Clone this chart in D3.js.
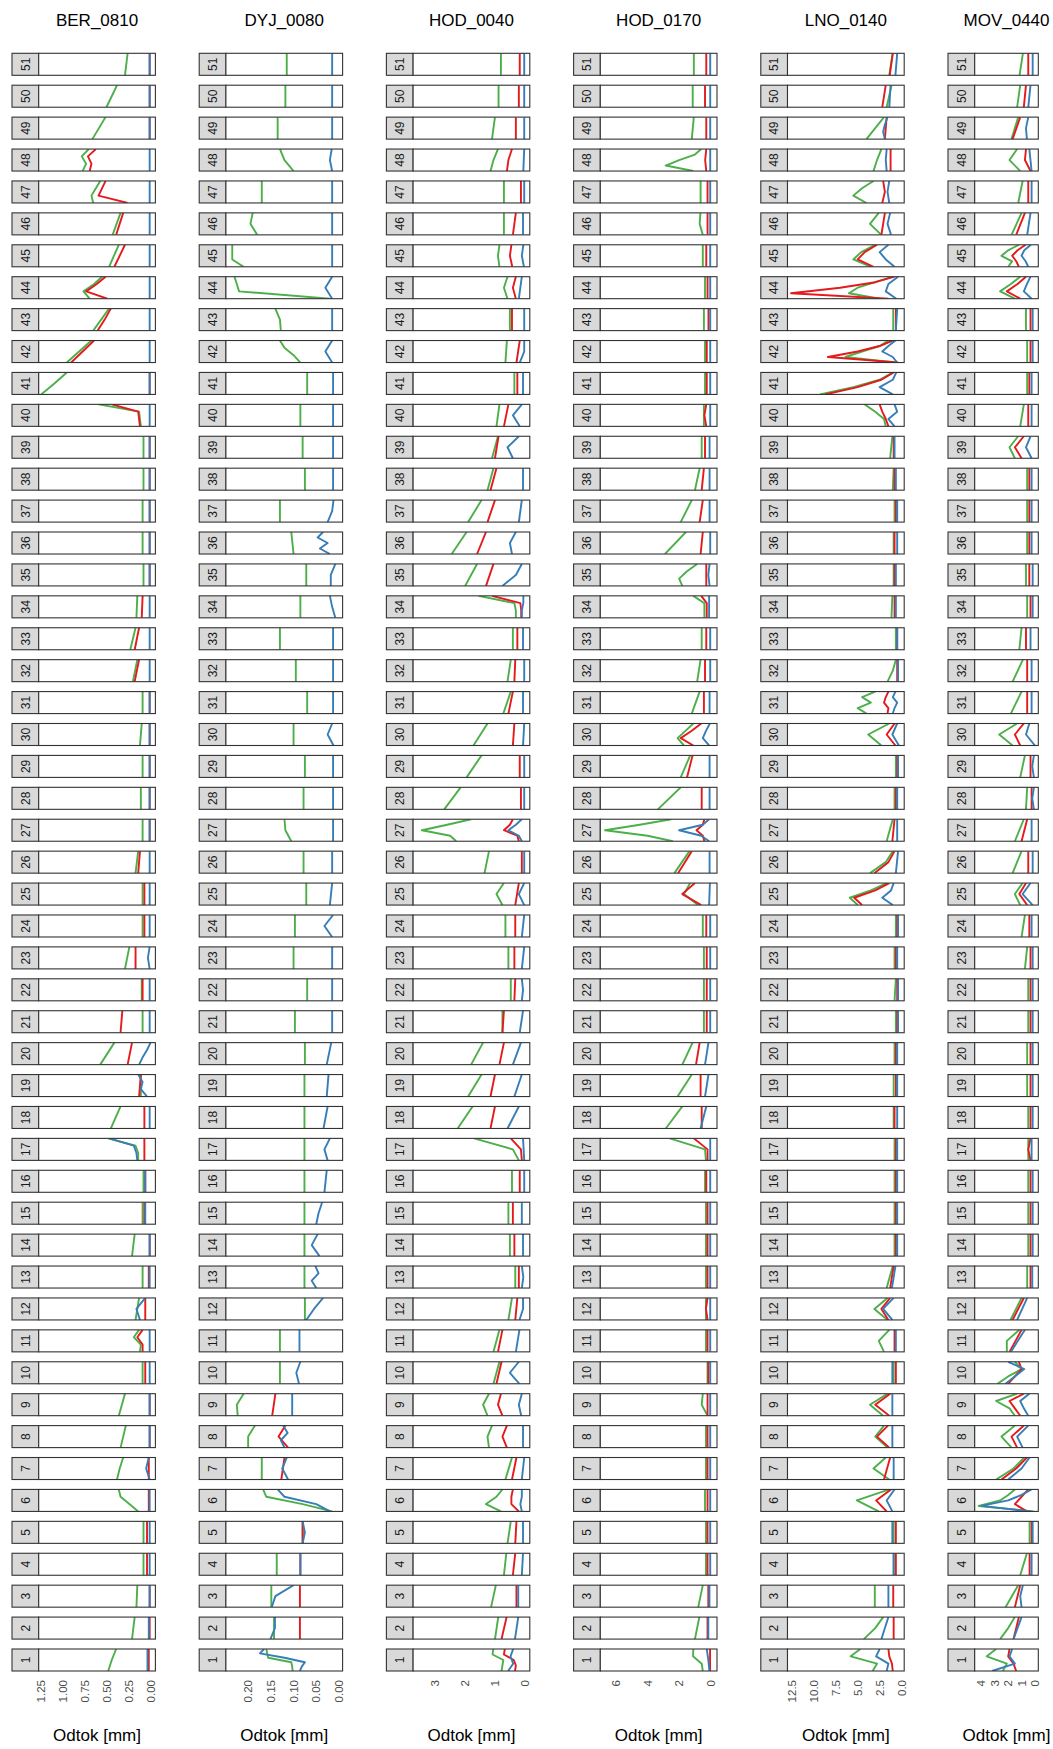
<!DOCTYPE html>
<html>
<head>
<meta charset="utf-8">
<script src="https://cdn.jsdelivr.net/npm/d3@7"></script>
<style>
  body { margin: 0; background: #fff; }
  text { font-family: "Liberation Sans", Arial, Helvetica, sans-serif; }
</style>
</head>
<body>
<svg id="chart" width="1053" height="1749"></svg>
<script>
// stations (one column each), weeks (one panel each)
var stations = ["BER_0810", "DYJ_0080", "HOD_0040", "HOD_0170", "LNO_0140", "MOV_0440"];
var weeks = d3.range(1, 52);

// runoff per week, read top -> bottom inside each panel; index 0 = week 1
var berGreen = [[0.40,0.45,0.49],[0.19,0.22],[0.16,0.17],[0.09],[0.09],[0.37,0.35,0.25,0.15],[0.32,0.36,0.39],[0.29,0.35],[0.30,0.37],[0.10],
  [0.14,0.2,0.12,0.13],[0.14,0.18],[0.10],[0.19,0.22],[0.10],[0.09],[0.49,0.18,0.15,0.15],[0.35,0.46],[0.12],[0.42,0.58],
  [0.10],[0.11],[0.25,0.30],[0.10],[0.10],[0.15,0.18],[0.10],[0.12],[0.10],[0.11,0.13],
  [0.10],[0.16,0.21],[0.18,0.24],[0.16,0.17],[0.09],[0.10],[0.10],[0.09],[0.09],[0.6,0.14,0.13,0.12],
  [0.96,1.1,1.25],[0.68,0.82,0.96],[0.48,0.57,0.66],[0.56,0.65,0.77,0.7],[0.37,0.48],[0.35,0.44],[0.58,0.63,0.68,0.66],[0.71,0.79,0.74,0.78],[0.52,0.67],[0.39,0.51],[0.27,0.30]];
var berRed = [[0.03],[0.02],[0.02],[0.05],[0.05],[0.03],[0.03],[0.02],[0.02],[0.07],
  [0.1,0.16,0.1,0.1],[0.07],[0.03],[0.02],[0.08],[0.07],[0.08],[0.08],[0.12,0.14],[0.22,0.27],
  [0.33,0.35],[0.10],[0.18],[0.08],[0.08],[0.13,0.15],[0.02],[0.02],[0.02],[0.02],
  [0.02],[0.14,0.19],[0.14,0.19],[0.1,0.11],[0.02],[0.02],[0.02],[0.02],[0.02],[0.45,0.15,0.14,0.13],
  [0.02],[0.65,0.78,0.91],[0.46,0.53,0.61],[0.52,0.62,0.74,0.5],[0.30,0.42],[0.32,0.40],[0.52,0.56,0.6,0.27],[0.63,0.72,0.68,0.70],[0.02],[0.02],[0.02]];
var berBlue = [[0.045],[0.03],[0.02],[0.02],[0.02],[0.02],[0.03,0.06,0.02],[0.02],[0.02],[0.02],
  [0.02],[0.07,0.17,0.13],[0.02],[0.02],[0.07],[0.07],[0.48,0.2,0.17,0.16],[0.02],[0.15,0.1,0.12,0.05],[0.01,0.05,0.1,0.14],
  [0.02],[0.02],[0.02,0.04,0.02],[0.02],[0.02],[0.02],[0.02],[0.02],[0.02],[0.02],
  [0.02],[0.02],[0.02],[0.02],[0.02],[0.02],[0.02],[0.02],[0.02],[0.02],
  [0.02],[0.02],[0.02],[0.02],[0.02],[0.02],[0.02],[0.02],[0.02],[0.02],[0.02]];

var dyjGreen = [[0.16,0.158,0.156,0.105,0.103,0.102],[0.143],[0.149],[0.137],[0.08],[0.167,0.16,0.08,0.015],[0.17],[0.185,0.2,0.2],[0.21,0.225,0.223],[0.13],
  [0.13],[0.075],[0.076],[0.076],[0.076],[0.076],[0.076],[0.076],[0.076],[0.075],
  [0.097],[0.07],[0.1],[0.097],[0.072],[0.078],[0.12,0.118,0.105],[0.078],[0.075],[0.1],
  [0.07],[0.095],[0.13],[0.085],[0.072],[0.105,0.1],[0.13],[0.075],[0.08],[0.085],
  [0.07],[0.13,0.12,0.1,0.085],[0.14,0.13,0.128],[0.23,0.225,0.22,0.02],[0.235,0.235,0.235,0.21],[0.19,0.195,0.18],[0.17],[0.13,0.12,0.1],[0.135],[0.118],[0.115]];
var dyjRed = [null,[0.086],[0.086],[0.085],[0.08],null,[0.12,0.127],[0.118,0.133,0.112],[0.14,0.147],null,
  null,null,null,null,null,null,null,null,null,null,
  null,null,null,null,null,null,null,null,null,null,
  null,null,null,null,null,null,null,null,null,null,
  null,null,null,null,null,null,null,null,null,null,null];
var dyjBlue = [[0.165,0.174,0.12,0.075,0.082,0.086],[0.141,0.141,0.151],[0.1,0.14,0.148],[0.085],[0.08,0.075,0.08],[0.135,0.12,0.05,0.02],[0.115,0.125,0.112],[0.123,0.113,0.128,0.12],[0.103],[0.085,0.094,0.088],
  [0.087],[0.035,0.055,0.072],[0.052,0.045,0.06,0.05],[0.047,0.06,0.043],[0.037,0.045,0.05],[0.027,0.032],[0.02,0.032,0.025],[0.025,0.034],[0.023,0.027],[0.017,0.027],
  [0.015],[0.015],[0.015],[0.013,0.032,0.015],[0.015,0.02],[0.015],[0.013],[0.013],[0.013],[0.015,0.025,0.012],
  [0.013],[0.013],[0.013],[0.02,0.015,0.008],[0.008,0.018,0.018],[0.035,0.047,0.025,0.042,0.02],[0.012,0.015,0.025],[0.013],[0.013],[0.013],
  [0.013],[0.015,0.03,0.015],[0.015],[0.015,0.03,0.015],[0.015],[0.015],[0.015],[0.016,0.02,0.015],[0.015],[0.015],[0.015]];

var hodGreen = [[1.06,1.08,0.72,0.75,0.78],[0.89,1.0],[0.97,1.13],[0.62,0.7],[0.47,0.58],[0.75,0.95,1.3,0.8],[0.43,0.65],[1.1,1.25,1.2],[1.2,1.4,1.25],[0.85,1.05],
  [0.85,1.05],[0.43,0.55],[0.32],[0.5],[0.55],[0.43],[1.7,0.4,0.2],[1.75,2.25],[1.45,1.9],[1.4,1.8],
  [0.75],[0.47],[0.55],[0.65],[0.7,0.95,0.75],[1.2,1.35],[1.8,2.6,3.45,2.5,2.3],[2.15,2.7],[1.45,1.95],[1.25,1.72],
  [0.47,0.72],[0.47,0.58],[0.4],[1.55,0.35,0.3,0.3],[1.6,2.0],[1.95,2.45],[1.45,1.9],[1.05,1.25],[0.9,1.1],[0.85,0.95],
  [0.35],[0.6,0.65],[0.5],[0.58,0.7,0.58],[0.85,0.9,0.85],[0.7],[0.7],[0.9,1.05,1.15],[1.0,1.1],[0.88],[0.8]];
var hodRed = [[0.67,0.7,0.37,0.3,0.33],[0.61,0.78],[0.28],[0.32,0.4],[0.28,0.32],[0.4,0.45,0.45,0.2],[0.28,0.43],[0.6,0.75,0.6],[0.8,0.9,0.75],[0.78,0.95],
  [0.75,0.9],[0.25,0.32],[0.2],[0.35],[0.4],[0.17],[0.47,0.13,0.1],[1.0,1.15],[1.0,1.15],[0.7,0.85],
  [0.7,0.75],[0.32,0.35],[0.35],[0.32],[0.2,0.32],[0.1],[0.4,0.5,0.7,0.25,0.2],[0.13],[0.17],[0.35,0.4],
  [0.4,0.55],[0.32,0.35],[0.25],[1.1,0.15,0.12,0.12],[1.05,1.3],[1.3,1.6],[1.0,1.25],[0.95,1.15],[0.88,1.0],[0.55,0.7],
  [0.25],[0.17,0.28],[0.43],[0.3,0.4,0.3],[0.45,0.5,0.42],[0.3,0.4],[0.13],[0.43,0.55,0.6],[0.3],[0.2],[0.17]];
var hodBlue = [[0.39,0.48,0.39,0.56],[0.22,0.33],[0.22],[0.06,0.1],[0.06],[0.1,0.1,0.15,0.1],[0.02,0.1],[0.06],[0.1,0.2,0.12],[0.2,0.5,0.18],
  [0.18,0.3],[0.06,0.06,0.18],[0.1,0.05,0.1],[0.06],[0.1],[0.02],[0.06,0.02],[0.2,0.58],[0.1,0.35],[0.13,0.4],
  [0.06,0.17],[0.1,0.06,0.1],[0.02,0.1],[0.02,0.1],[0.02,0.2,0.02],[0.02],[0.1,0.3,0.55,0.2,0.1],[0.02],[0.02],[0.02,0.06],
  [0.06],[0.02],[0.06],[0.05,0.05,0.1,0.1],[0.1,0.3,0.75],[0.3,0.5,0.43],[0.1,0.2],[0.06],[0.2,0.58,0.4],[0.1,0.4,0.17],
  [0.06],[0.02,0.02,0.17],[0.02],[0.1,0.2],[0.05,0.1,0.03],[0.06],[0.02],[0.02,0.05],[0.02],[0.02],[0.02]];

var ho2Green = [[1.1,1.12,0.57,0.5],[0.72,1.0],[0.5,0.79],[0.3],[0.3],[0.36],[0.3],[0.3],[0.5,0.57,0.2],[0.2],
  [0.3],[0.3],[0.3],[0.3],[0.3],[0.36],[2.6,0.36,0.3],[1.8,2.85],[1.2,2.1],[1.15,1.8],
  [0.43],[0.43],[0.43],[0.5],[1.3,1.7,0.8],[1.35,2.3],[2.5,4.5,6.7,4.0,2.4],[1.9,3.35],[1.3,1.9],[1.1,1.6,2.1,1.7],
  [0.7,1.2],[0.64,0.86],[0.57],[1.1,0.4,0.4,0.4],[0.86,1.5,2.0,1.8],[1.57,2.9],[1.2,1.9],[0.7,1.0],[0.57],[0.43],
  [0.36],[0.36],[0.43],[0.36],[0.5],[0.65,0.7,0.5],[0.64],[0.6,1.0,2.0,2.85,1.1],[1.07,1.2],[1.14],[1.07]];
var ho2Red = [[0.04],[0.2],[0.15],[0.2],[0.2],[0.2],[0.2],[0.2],[0.2],[0.15],
  [0.2],[0.2,0.3,0.2],[0.2],[0.2],[0.2],[0.28],[1.07,0.2,0.2],[0.57],[0.64],[0.7,0.93],
  [0.25],[0.25],[0.25],[0.28],[1.0,1.8,0.6],[1.2,2.07],[0.4,0.5,0.9,0.5,0.4],[0.57],[1.15,1.5],[0.6,1.2,1.9,1.1],
  [0.43],[0.36],[0.28],[0.6,0.25,0.25,0.25],[0.28],[0.5,0.64],[0.5,0.7],[0.43,0.57],[0.36],[0.28,0.4,0.28],
  [0.25],[0.25],[0.14],[0.2],[0.28],[0.2],[0.2],[0.28,0.35,0.28],[0.28],[0.36],[0.28]];
var ho2Blue = [[0.25,0.15,0.08],[0.15],[0.08],[0.03],[0.03],[0.03],[0.03],[0.03],[0.03],[0.03],
  [0.03],[0.03],[0.03],[0.03],[0.03],[0.03],[0.03],[0.28,0.64],[0.14,0.36],[0.14,0.36],
  [0.03],[0.03],[0.03],[0.03],[0.05,0.1],[0.07],[0.1,0.5,2.0,0.6,0.1],[0.07],[0.07],[0.05,0.3,0.5,0.1],
  [0.07],[0.03],[0.03],[0.1],[0.07,0.15,0.07],[0.03],[0.07],[0.07],[0.07],[0.03],
  [0.03],[0.03],[0.03],[0.03],[0.03],[0.03],[0.03],[0.03],[0.03],[0.03],[0.03]];

var lnoGreen = [[4.7,5.8,2.8,3.3],[2.1,3.0,4.3],[3.05],[0.9],[0.9],[1.4,5.1,2.6],[1.8,3.2,1.4],[2.0,3.0,1.6],[1.6,3.6,2.1],[0.9],
  [1.4,2.6,2.0],[1.6,3.1,1.6],[1.0,1.7],[0.8],[0.8],[0.8],[0.8],[0.9],[0.9],[0.8],
  [0.65],[0.65,0.8],[0.8],[0.65],[1.7,3.5,5.9,5.0],[1.0,1.8,3.6],[1.0,1.7],[0.8],[0.65],[1.4,3.8,2.3],
  [3.0,4.5,3.5,5.0,4.0],[0.65,1.0,1.6],[0.65],[1.05,1.15],[0.9],[0.9],[0.8],[0.9,1.0],[1.05,1.3],[4.2,3.0,2.0,1.8],
  [1.0,2.5,5.5,9.3],[1.5,2.5,4.5,6.4,0.8],[0.95],[1.0,3.0,5.0,6.0,2.5],[3.0,4.6,5.5,3.5],[2.6,3.6,2.3],[3.2,4.5,5.5,4.0],[2.3,2.8,3.2],[2.0,3.0,4.0],[1.14,1.7],[1.02,1.4]];
var lnoRed = [[1.5,1.4,1.1,1.0],[0.9],[0.95],[0.65],[0.65],[1.2,2.9,1.7],[1.3,2.0],[1.55,2.8,1.4],[1.3,3.0,1.4],[0.65],
  [0.8],[1.3,2.3,1.5],[0.9,1.3],[0.65],[0.65],[0.65],[0.65],[0.8],[0.65],[0.65],
  [0.5],[0.5],[0.65],[0.5],[1.4,3.0,5.4,4.5],[0.8,1.5,3.1],[0.8,1.05],[0.65],[0.5],[0.8,1.7,0.7],
  [1.5,1.8,2.0,1.5,1.6],[0.5],[0.5],[0.8],[0.8],[0.8],[0.65],[0.8],[0.9],[2.5,2.2,1.8,1.5],
  [0.9,2.3,5.0,8.7],[1.0,2.5,5.0,8.4,0.4],[0.65],[0.8,3.0,7.0,12.6,1.5],[2.8,4.2,5.0,3.2],[1.9,2.3],[2.1,1.9,2.2],[1.25],[1.7,1.9],[1.8,2.2],[1.0,1.35]];
var lnoBlue = [[2.5,2.9,1.5,1.7],[1.5,2.3],[1.5],[0.9],[1.05],[0.8,1.7,1.05],[0.9],[1.05],[1.05],[1.05],
  [0.65],[0.9,2.1,1.05],[0.7,1.1],[0.5],[0.5],[0.5],[0.5],[0.5],[0.5],[0.5],
  [0.4],[0.4],[0.5],[0.4],[0.9,1.2,2.2,1.0],[0.4,0.65],[0.5],[0.5],[0.4],[0.5,1.05,0.3],
  [0.7,1.0,0.5,0.8,1.0],[0.4],[0.5],[0.65],[0.65],[0.5],[0.5],[0.65],[0.8],[0.8,0.5,1.5,0.8],
  [0.6,1.0,2.5,1.0],[0.7,1.5,2.2,1.0,0.5],[0.5,0.65],[0.4,1.5,1.8,0.6],[1.5,2.5,1.8,0.8],[1.3,1.6,1.2],[1.4,1.6,1.4],[1.7,1.8,1.7],[1.6,1.9,2.1,1.9],[1.25,1.4],[0.5,0.7]];

var movGreen = [[2.9,3.6,2.1,2.4],[1.5,2.0,2.6],[1.25,2.2],[0.6,1.1],[0.4],[1.5,2.0,2.6,4.2,0.1],[0.8,1.6,2.9],[1.5,2.5,1.75],[1.33,2.9,1.9,1.5],[1.5,1.0,2.0,2.8],
  [1.17,2.1,2.1],[1.0,1.83],[0.58],[0.5],[0.5],[0.5],[0.5],[0.5],[0.58],[0.58],
  [0.5],[0.5],[0.58,0.75],[0.75,1.0],[0.92,1.5,1.1],[1.0,1.67],[0.83,1.5],[0.58,0.67],[0.75,1.1],[1.33,2.67,1.67],
  [1.0,1.8],[0.9,1.67],[1.0,1.17],[0.58],[0.67],[0.58],[0.58],[0.58],[1.25,1.9,1.5],[0.83,1.1],
  [0.58],[0.58],[0.67],[1.1,1.8,2.6,1.5],[1.2,2.0,2.5,1.7,2.0],[1.0,1.75],[0.92,1.25],[1.33,1.9,1.1],[1.25,1.75],[1.1,1.33],[0.9,1.15]];
var movRed = [[1.9,2.0,1.6,1.4],[1.2,1.6],[1.1,1.5],[0.4],[0.25],[0.5,1.0,1.5,0.6],[0.6,1.4,2.5],[0.83,1.75,1.33],[0.83,1.9,1.5,1.1],[1.2,1.0,1.5,2.0],
  [1.0,1.9],[0.83,1.67],[0.33],[0.33],[0.33],[0.33],[0.33,0.5,0.33],[0.33],[0.33],[0.33],
  [0.33],[0.33],[0.33],[0.42],[0.67,1.17,0.58],[0.5],[0.58,1.0],[0.25],[0.33],[0.83,1.5,1.1],
  [0.58],[0.58],[0.67],[0.33],[0.42],[0.42],[0.42],[0.42],[0.83,1.5,1.0],[0.5],
  [0.42],[0.33],[0.33],[0.67,1.3,2.1,1.1],[0.7,1.3,1.7,1.4,1.2],[0.75,1.4],[0.5],[0.67,0.75,0.33],[1.1,1.67],[0.67,0.83],[0.5]];
var movBlue = [[1.7,1.9,1.5,3.2],[1.0,1.6],[0.9,1.1,1.0],[0.25],[0.17],[0.25,1.0,2.0,4.0,0.3],[0.4,1.0,2.0],[0.5,1.33,0.92],[0.42,1.1,0.83,0.5],[2.0,0.8,1.5,2.2],
  [0.75,1.8],[0.58,1.33],[0.2],[0.17],[0.17],[0.17],[0.25],[0.17],[0.17],[0.17],
  [0.17],[0.17],[0.17],[0.25],[0.33,0.92,0.17],[0.17],[0.25],[0.08,0.2,0.08],[0.08,0.2,0.08],[0.42,0.67,0.0],
  [0.25],[0.25],[0.33],[0.17],[0.17],[0.25],[0.25],[0.25],[0.33,0.67,0.25],[0.25],
  [0.25],[0.17],[0.17],[0.33,0.6,0.83,0.25],[0.3,0.8,1.0,0.7,0.5],[0.33,0.58],[0.25],[0.42,0.25],[0.5,0.67,0.6],[0.33,0.5],[0.17]];

// axis ticks and visible value range per column (axis runs right -> left)
var xTicks = [[1.25,1,0.75,0.5,0.25,0],[0.2,0.15,0.1,0.05,0],[3,2,1,0],[6,4,2,0],[12.5,10,7.5,5,2.5,0],[4,3,2,1,0]];
var xFormats = [".2f", ".2f", "d", "d", ".1f", "d"];
var xDomains = [[1.278,-0.045],[0.249,-0.008],[3.743,-0.167],[7.0,-0.4],[13.0,-0.3],[4.5,-0.25]];

var columns = [
  {green: berGreen, red: berRed, blue: berBlue},
  {green: dyjGreen, red: dyjRed, blue: dyjBlue},
  {green: hodGreen, red: hodRed, blue: hodBlue},
  {green: ho2Green, red: ho2Red, blue: ho2Blue},
  {green: lnoGreen, red: lnoRed, blue: lnoBlue},
  {green: movGreen, red: movRed, blue: movBlue}
];
var seriesColors = {green: "#4DAF4A", red: "#E41A1C", blue: "#377EB8"};

var svg = d3.select("#chart");
var colStep = 187.2,
    colStart = 12,
    stripW = 26.7,
    panelWs = [116.7, 116.7, 116.7, 116.7, 116.7, 63.6],
    panelH = 22;

// panel tops: week 51 at the top, week 1 at the bottom
var yWeek = d3.scalePoint().domain(weeks.slice().reverse()).range([53.3, 1649]);

stations.forEach(function (name, ci) {
  var left = colStart + ci * colStep + stripW,
      pw = panelWs[ci],
      x = d3.scaleLinear().domain(xDomains[ci]).range([left, left + pw]),
      g = svg.append("g").attr("class", "station");

  g.append("text")
    .attr("x", left + pw / 2)
    .attr("y", 25.7)
    .attr("text-anchor", "middle")
    .attr("font-size", 17)
    .attr("fill", "#000")
    .text(name);

  weeks.forEach(function (w) {
    var top = yWeek(w),
        pg = g.append("g");

    pg.append("rect")
      .attr("x", left - stripW).attr("y", top)
      .attr("width", stripW).attr("height", panelH)
      .attr("fill", "#d9d9d9").attr("stroke", "#333").attr("stroke-width", 1.1);
    pg.append("text")
      .attr("transform", "translate(" + (left - stripW / 2) + "," + (top + panelH / 2) + ") rotate(-90)")
      .attr("text-anchor", "middle")
      .attr("dy", "0.36em")
      .attr("font-size", 12)
      .attr("fill", "#1a1a1a")
      .text(w);

    var clipId = "clip-" + ci + "-" + w;
    pg.append("clipPath").attr("id", clipId)
      .append("rect").attr("x", left).attr("y", top).attr("width", pw).attr("height", panelH);
    pg.append("rect")
      .attr("x", left).attr("y", top).attr("width", pw).attr("height", panelH)
      .attr("fill", "#fff");

    ["green", "red", "blue"].forEach(function (s) {
      var vals = columns[ci][s][w - 1];
      if (!vals) return;
      if (vals.length === 1) vals = [vals[0], vals[0]];
      var y = d3.scaleLinear().domain([0, vals.length - 1]).range([top, top + panelH]);
      var line = d3.line()
        .x(function (d) { return x(d); })
        .y(function (d, i) { return y(i); });
      pg.append("path")
        .attr("clip-path", "url(#" + clipId + ")")
        .attr("d", line(vals))
        .attr("fill", "none")
        .attr("stroke", seriesColors[s])
        .attr("stroke-width", 1.9)
        .attr("stroke-linejoin", "round");
    });

    pg.append("rect")
      .attr("x", left).attr("y", top).attr("width", pw).attr("height", panelH)
      .attr("fill", "none").attr("stroke", "#333").attr("stroke-width", 1.1);
  });

  // x axis: rotated tick labels under the last panel
  var axisY = yWeek(1) + panelH + 9;
  g.selectAll("text.tick")
    .data(xTicks[ci])
    .enter().append("text")
    .attr("class", "tick")
    .attr("transform", function (d) { return "translate(" + x(d) + "," + axisY + ") rotate(-90)"; })
    .attr("text-anchor", "end")
    .attr("dy", "0.35em")
    .attr("font-size", 11.5)
    .attr("fill", "#4d4d4d")
    .text(d3.format(xFormats[ci]));

  g.append("text")
    .attr("x", left + pw / 2)
    .attr("y", 1741)
    .attr("text-anchor", "middle")
    .attr("font-size", 17)
    .attr("fill", "#000")
    .text("Odtok [mm]");
});
</script>
</body>
</html>
